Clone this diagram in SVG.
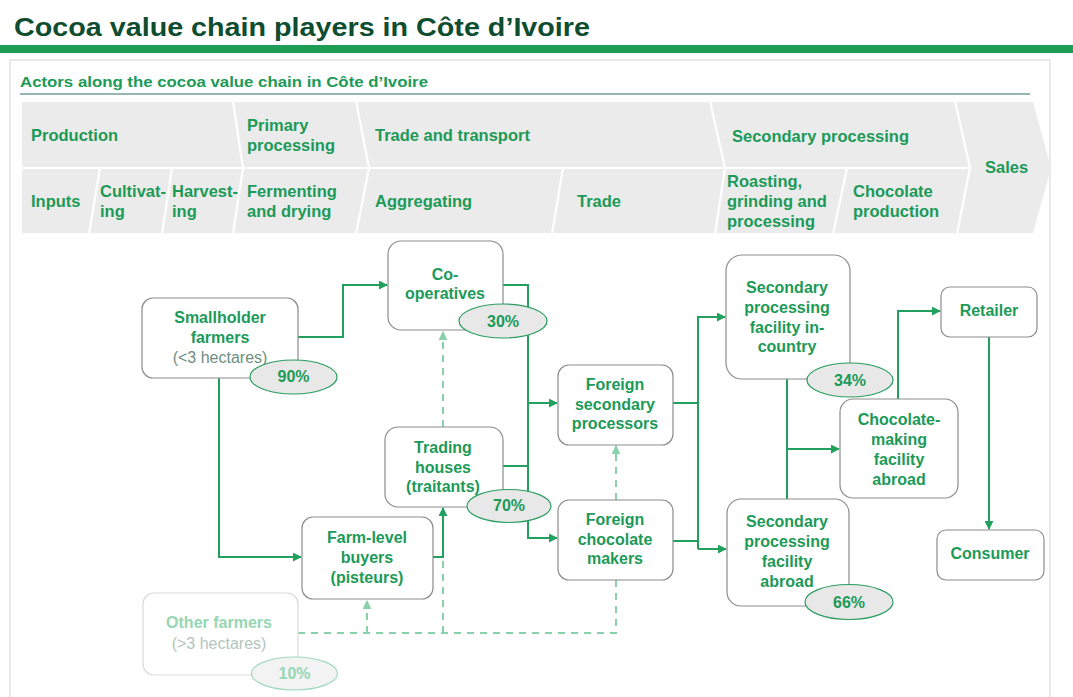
<svg xmlns="http://www.w3.org/2000/svg" width="1073" height="697" viewBox="0 0 1073 697">
<defs>
<style>
.t{font-family:"Liberation Sans",Arial,sans-serif;font-weight:bold;fill:#1c9a58}
.ch{font-size:16.5px}
.nd{font-size:16px;text-anchor:middle}
.sub{font-family:"Liberation Sans",Arial,sans-serif;font-size:16px;fill:#6f8f80;text-anchor:middle}
.box{fill:#fff;stroke:#8c8c8c;stroke-width:1.2}
.pct{fill:#e8e8e8;stroke:#2a9d5f;stroke-width:1.2}
.ln{fill:none;stroke:#22a05e;stroke-width:2}
.da{fill:none;stroke:#8ad0aa;stroke-width:2;stroke-dasharray:7,6}
.sep{fill:none;stroke:#fff;stroke-width:2.2}
</style>
<marker id="ah" viewBox="0 0 10 10" refX="9" refY="5" markerWidth="9" markerHeight="9" markerUnits="userSpaceOnUse" orient="auto"><path d="M0,0 L10,5 L0,10 z" fill="#22a05e"/></marker>
<marker id="ahl" viewBox="0 0 10 10" refX="9" refY="5" markerWidth="9" markerHeight="9" markerUnits="userSpaceOnUse" orient="auto"><path d="M0,0 L10,5 L0,10 z" fill="#8ad0aa"/></marker>
</defs>
<rect width="1073" height="697" fill="#fff"/>
<text x="14" y="36" font-family="Liberation Sans,Arial,sans-serif" font-weight="bold" font-size="26" fill="#0e4d30" textLength="576" lengthAdjust="spacingAndGlyphs">Cocoa value chain players in Côte d’Ivoire</text>
<rect x="0" y="45" width="1073" height="8" fill="#1f9c55"/>
<rect x="10" y="60" width="1040" height="650" fill="none" stroke="#e2e2e2" stroke-width="1.5"/>
<text x="20" y="87" font-family="Liberation Sans,Arial,sans-serif" font-weight="bold" font-size="15" fill="#1c9a58" textLength="408" lengthAdjust="spacingAndGlyphs">Actors along the cocoa value chain in Côte d’Ivoire</text>
<line x1="20" y1="94" x2="1030" y2="94" stroke="#2f6f66" stroke-width="1.2"/>

<g id="chevrons">
<polygon points="22,102 1033,102 1051,168 1033,233 22,233" fill="#ebebeb"/>
<line class="sep" x1="22" y1="168" x2="969" y2="168"/>
<polyline class="sep" points="233,101 243,168 233,234"/>
<polyline class="sep" points="356,101 369,168 356,234"/>
<polyline class="sep" points="710,101 725,168 715,234"/>
<polyline class="sep" points="955,101 970,168 957,234"/>
<line class="sep" x1="100" y1="168" x2="89" y2="234"/>
<line class="sep" x1="172" y1="168" x2="162" y2="234"/>
<line class="sep" x1="563" y1="168" x2="552" y2="234"/>
<line class="sep" x1="847" y1="168" x2="833" y2="234"/>
<text class="t ch" x="31" y="141">Production</text>
<text class="t ch" x="247" y="131">Primary</text>
<text class="t ch" x="247" y="151">processing</text>
<text class="t ch" x="375" y="141">Trade and transport</text>
<text class="t ch" x="732" y="142">Secondary processing</text>
<text class="t ch" x="985" y="173">Sales</text>
<text class="t ch" x="31" y="207">Inputs</text>
<text class="t ch" x="100" y="197">Cultivat-</text>
<text class="t ch" x="100" y="217">ing</text>
<text class="t ch" x="172" y="197">Harvest-</text>
<text class="t ch" x="172" y="217">ing</text>
<text class="t ch" x="247" y="197">Fermenting</text>
<text class="t ch" x="247" y="217">and drying</text>
<text class="t ch" x="375" y="207">Aggregating</text>
<text class="t ch" x="577" y="207">Trade</text>
<text class="t ch" x="727" y="187">Roasting,</text>
<text class="t ch" x="727" y="207">grinding and</text>
<text class="t ch" x="727" y="227">processing</text>
<text class="t ch" x="853" y="197">Chocolate</text>
<text class="t ch" x="853" y="217">production</text>
</g>

<g id="connectors">
<polyline class="ln" points="298,337 343,337 343,285 387,285" marker-end="url(#ah)"/>
<polyline class="ln" points="219,378 219,557 301,557" marker-end="url(#ah)"/>
<polyline class="ln" points="433,557 443,557 443,508" marker-end="url(#ah)"/>
<polyline class="ln" points="503,285 528,285 528,538 557,538" marker-end="url(#ah)"/>
<polyline class="ln" points="503,466 528,466"/>
<polyline class="ln" points="528,403 557,403" marker-end="url(#ah)"/>
<polyline class="ln" points="673,403 698,403"/>
<polyline class="ln" points="673,541 698,541"/>
<polyline class="ln" points="698,549 698,317 725,317" marker-end="url(#ah)"/>
<polyline class="ln" points="698,549 726,549" marker-end="url(#ah)"/>
<polyline class="ln" points="787,379 787,499"/>
<polyline class="ln" points="787,449 839,449" marker-end="url(#ah)"/>
<polyline class="ln" points="898,399 898,311 940,311" marker-end="url(#ah)"/>
<polyline class="ln" points="989,337 989,529" marker-end="url(#ah)"/>
<polyline class="da" points="443,427 443,332" marker-end="url(#ahl)"/>
<polyline class="da" points="616,500 616,446" marker-end="url(#ahl)"/>
<polyline class="da" points="298,633 616,633 616,580"/>
<polyline class="da" points="367,633 367,601" marker-end="url(#ahl)"/>
<polyline class="da" points="443,633 443,558"/>
</g>

<g id="smallholder">
<rect class="box" x="142" y="298" width="156" height="80" rx="11"/>
<text class="t nd" x="220" y="323">Smallholder</text>
<text class="t nd" x="220" y="343">farmers</text>
<text class="sub" x="220" y="363">(&lt;3 hectares)</text>
<ellipse class="pct" cx="293.5" cy="377" rx="43.5" ry="17"/>
<text class="t nd" x="293.5" y="382">90%</text>
</g>
<g id="cooperatives">
<rect class="box" x="388" y="241" width="115" height="89" rx="13"/>
<text class="t nd" x="445" y="280">Co-</text>
<text class="t nd" x="445" y="299">operatives</text>
<ellipse class="pct" cx="503" cy="321" rx="44" ry="17"/>
<text class="t nd" x="503" y="327">30%</text>
</g>
<g id="trading-houses">
<rect class="box" x="385" y="427" width="118" height="80" rx="13"/>
<text class="t nd" x="443" y="453">Trading</text>
<text class="t nd" x="443" y="473">houses</text>
<text class="t nd" x="443" y="492">(traitants)</text>
<ellipse class="pct" cx="509" cy="506" rx="42" ry="16.5"/>
<text class="t nd" x="509" y="511">70%</text>
</g>
<g id="farm-level-buyers">
<rect class="box" x="302" y="517" width="131" height="82" rx="11"/>
<text class="t nd" x="367" y="543">Farm-level</text>
<text class="t nd" x="367" y="563">buyers</text>
<text class="t nd" x="367" y="583">(pisteurs)</text>
</g>
<g id="other-farmers">
<rect x="143" y="593" width="155" height="82" rx="11" fill="#fff" stroke="#dadada" stroke-width="1.2"/>
<text class="nd" x="219" y="628" font-family="Liberation Sans,Arial,sans-serif" font-weight="bold" fill="#96d6b3">Other farmers</text>
<text class="sub" x="219" y="649" fill="#b8c9c0" style="fill:#b3c6bc">(&gt;3 hectares)</text>
<ellipse cx="294.5" cy="673.5" rx="43" ry="16.5" fill="#f3f3f3" stroke="#9fd9ba" stroke-width="1.2"/>
<text class="nd" x="294.5" y="679" font-family="Liberation Sans,Arial,sans-serif" font-weight="bold" fill="#96d6b3">10%</text>
</g>
<g id="foreign-secondary-processors">
<rect class="box" x="558" y="365" width="115" height="80" rx="11"/>
<text class="t nd" x="615" y="390">Foreign</text>
<text class="t nd" x="615" y="410">secondary</text>
<text class="t nd" x="615" y="429">processors</text>
</g>
<g id="foreign-chocolate-makers">
<rect class="box" x="558" y="500" width="115" height="80" rx="11"/>
<text class="t nd" x="615" y="525">Foreign</text>
<text class="t nd" x="615" y="545">chocolate</text>
<text class="t nd" x="615" y="564">makers</text>
</g>
<g id="secondary-in-country">
<rect class="box" x="726" y="255" width="124" height="124" rx="16"/>
<text class="t nd" x="787" y="293">Secondary</text>
<text class="t nd" x="787" y="313">processing</text>
<text class="t nd" x="787" y="333">facility in-</text>
<text class="t nd" x="787" y="352">country</text>
<ellipse class="pct" cx="850" cy="380" rx="43" ry="17"/>
<text class="t nd" x="850" y="386">34%</text>
</g>
<g id="chocolate-making-abroad">
<rect class="box" x="840" y="399" width="118" height="99" rx="13"/>
<text class="t nd" x="899" y="425">Chocolate-</text>
<text class="t nd" x="899" y="445">making</text>
<text class="t nd" x="899" y="465">facility</text>
<text class="t nd" x="899" y="485">abroad</text>
</g>
<g id="secondary-abroad">
<rect class="box" x="727" y="499" width="122" height="107" rx="14"/>
<text class="t nd" x="787" y="527">Secondary</text>
<text class="t nd" x="787" y="547">processing</text>
<text class="t nd" x="787" y="567">facility</text>
<text class="t nd" x="787" y="587">abroad</text>
<ellipse class="pct" cx="849" cy="602" rx="44" ry="17.5"/>
<text class="t nd" x="849" y="608">66%</text>
</g>
<g id="retailer">
<rect class="box" x="941" y="287" width="96" height="50" rx="9"/>
<text class="t nd" x="989" y="316">Retailer</text>
</g>
<g id="consumer">
<rect class="box" x="937" y="530" width="107" height="50" rx="9"/>
<text class="t nd" x="990" y="559">Consumer</text>
</g>
</svg>
